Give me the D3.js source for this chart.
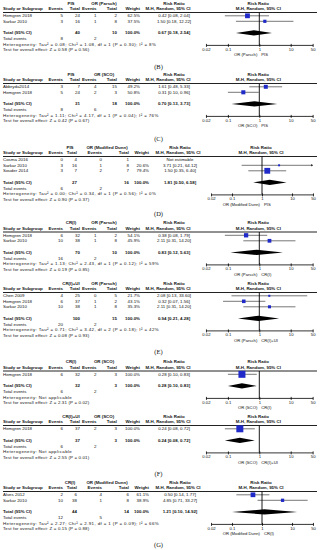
<!DOCTYPE html>
<html><head><meta charset="utf-8">
<script src="https://cdn.jsdelivr.net/npm/d3@7"></script>
<style>
body{margin:0;background:#fff}
svg{display:block}
text{font-family:"Liberation Sans",Arial,sans-serif;fill:#111}
</style>
</head><body>
<svg id="chart" width="320" height="550"></svg>
<script>
// ---------- DATA ----------
const panelLabels = ["(B)","(C)","(D)","(E)","(F)","(G)"];
const expGroups = ["PIS","PIS","PIS","CR(I)","CR(I)+UI","CR(I)","CR(I)+UI","CR(I)"];
const ctlGroups = ["OR (Parsch)","OR (SCO)","OR (Modified Dunn)","OR (Parsch)","OR (Parsch)","OR (SCO)","OR (SCO)","OR (Modified Dunn)"];
const studyNames = [
  ["Hemgren 2018","Sarkar 2010"],
  ["Abbryda2014","Hemgren 2018"],
  ["Cosma 2016","Sarkar 2010","Souder 2014"],
  ["Hemgren 2018","Sarkar 2010"],
  ["Chen 2009","Hemgren 2018","Sarkar 2010"],
  ["Hemgren 2018"],
  ["Hemgren 2018"],
  ["Alves 2012","Sarkar 2010"]
];
const expEvents = [[5,3],[3,5],[0,3,3],[6,10],[4,6,10],[6],[6],[2,10]];
const expTotals = [[24,16],[7,24],[4,16,7],[32,38],[25,37,38],[32],[37],[6,38]];
const ctlEvents = [[1,1],[4,2],[0,1,2],[1,1],[0,1,1],[2],[2],[4,1]];
const ctlTotals = [[2,8],[15,3],[1,8,7],[2,8],[5,2,8],[3],[3],[6,8]];
const weights = [[62.5,37.5],[49.2,50.8],[null,20.6,79.4],[54.1,45.9],[21.7,43.1,35.3],[100],[100],[61.1,38.9]];
const riskRatios = [[0.42,1.50],[1.61,0.31],[null,3.71,1.50],[0.38,2.11],[2.08,0.32,2.11],[0.28],[0.24],[0.50,4.85]];
const ciLower = [[0.08,0.18],[0.48,0.10],[null,0.21,0.35],[0.08,0.31],[0.13,0.07,0.31],[0.10],[0.08],[0.14,0.71]];
const ciUpper = [[2.04,12.22],[5.33,0.96],[null,64.12,6.40],[1.79,14.20],[33.60,1.56,14.20],[0.83],[0.72],[1.77,33.27]];
const totalExpN = [40,31,27,70,100,32,37,44];
const totalCtlN = [10,18,16,10,15,3,3,14];
const totalExpEvents = [8,8,6,16,20,6,6,12];
const totalCtlEvents = [2,6,2,2,2,2,2,5];
const pooledRR = [0.67,0.70,1.81,0.83,0.94,0.28,0.24,1.21];
const pooledLo = [0.18,0.13,0.50,0.12,0.21,0.10,0.08,0.10];
const pooledHi = [2.54,3.73,6.58,5.63,4.28,0.83,0.72,14.92];
const heterogeneity = [
  "Heterogeneity: Tau² = 0.08; Chi² = 1.08, df = 1 (P = 0.30); I² = 8%",
  "Heterogeneity: Tau² = 1.11; Chi² = 4.17, df = 1 (P = 0.04); I² = 76%",
  "Heterogeneity: Tau² = 0.00; Chi² = 0.34, df = 1 (P = 0.56); I² = 0%",
  "Heterogeneity: Tau² = 1.13; Chi² = 2.43, df = 1 (P = 0.12); I² = 59%",
  "Heterogeneity: Tau² = 0.71; Chi² = 3.42, df = 2 (P = 0.18); I² = 42%",
  "Heterogeneity: Not applicable",
  "Heterogeneity: Not applicable",
  "Heterogeneity: Tau² = 2.27; Chi² = 2.91, df = 1 (P = 0.09); I² = 66%"
];
const overallEffect = [
  "Test for overall effect: Z = 0.58 (P = 0.56)",
  "Test for overall effect: Z = 0.42 (P = 0.67)",
  "Test for overall effect: Z = 0.90 (P = 0.37)",
  "Test for overall effect: Z = 0.19 (P = 0.85)",
  "Test for overall effect: Z = 0.08 (P = 0.93)",
  "Test for overall effect: Z = 2.31 (P = 0.02)",
  "Test for overall effect: Z = 2.55 (P = 0.01)",
  "Test for overall effect: Z = 0.15 (P = 0.88)"
];
const tickValues = [0.02,0.1,1,10,50];
const tickLabels = ["0.02","0.1","1","10","50"];

// ---------- LAYOUT ----------
const headerY = [3, 74, 147, 222.5, 283, 361.5, 416, 482];
const labelY = [67, 139, 214, null, 352, null, 474, 545];
const layoutKind = [0,0,1,0,0,0,0,1];
const layouts = [
  {e1:63, t1:80, e2:96.5, t2:117, w:140, expC:71, ctlC:104, ciC:174, mhC:168, x1:259.3, dec:31.4},
  {e1:63, t1:77, e2:102, t2:129, w:149, expC:70, ctlC:107, ciC:180, mhC:178, x1:262, dec:30}
];
const FS = 4.4;
const ROW = 5.5;
const BLUE = "#1f2ac8";

const svg = d3.select("#chart");

function txt(g, x, y, s, opt={}) {
  const t = g.append("text").attr("x", x).attr("y", y).attr("dy","0.35em")
    .attr("font-size", opt.fs || FS)
    .attr("font-weight", opt.bold ? "bold" : null)
    .attr("text-anchor", opt.anchor || "start")
    .text(s);
  if (opt.ls) t.style("letter-spacing", opt.ls + "px");
  return t;
}
const fmt2 = d3.format(".2f");
const ciText = (r,l,u) => `${fmt2(r)} [${fmt2(l)}, ${fmt2(u)}]`;

headerY.forEach((h, p) => {
  const L = layouts[layoutKind[p]];
  const g = svg.append("g");
  const x = d3.scaleLog().domain([0.02, 50])
    .range([L.x1 - L.dec*Math.log10(50), L.x1 + L.dec*Math.log10(50)]);
  const sizeScale = d3.scalePow().exponent(0.8).domain([0,100]).range([0,7]);

  // headers
  txt(g, L.expC, h, expGroups[p], {bold:true, anchor:"middle"});
  txt(g, L.ctlC, h, ctlGroups[p], {bold:true, anchor:"middle"});
  txt(g, L.ciC, h, "Risk Ratio", {bold:true, anchor:"middle"});
  txt(g, x(1)-1, h, "Risk Ratio", {bold:true, anchor:"middle"});
  const h2 = h + 5.6;
  txt(g, 3, h2, "Study or Subgroup", {bold:true});
  txt(g, L.e1, h2, "Events", {bold:true, anchor:"end"});
  txt(g, L.t1, h2, "Total", {bold:true, anchor:"end"});
  txt(g, L.e2, h2, "Events", {bold:true, anchor:"end"});
  txt(g, L.t2, h2, "Total", {bold:true, anchor:"end"});
  txt(g, L.w, h2, "Weight", {bold:true, anchor:"end"});
  txt(g, L.mhC, h2, "M-H, Random, 95% CI", {bold:true, anchor:"middle"});
  txt(g, x(1)-1, h2, "M-H, Random, 95% CI", {bold:true, anchor:"middle"});
  const lineY = h + 9.5;
  g.append("line").attr("x1",3).attr("x2",317).attr("y1",lineY).attr("y2",lineY)
    .attr("stroke","#222").attr("stroke-width",1);

  // study rows
  const names = studyNames[p];
  const rowY = i => h + 12.8 + i*ROW;
  names.forEach((nm, i) => {
    const y = rowY(i);
    txt(g, 3, y, nm);
    txt(g, L.e1, y, expEvents[p][i], {anchor:"end"});
    txt(g, L.t1, y, expTotals[p][i], {anchor:"end"});
    txt(g, L.e2, y, ctlEvents[p][i], {anchor:"end"});
    txt(g, L.t2, y, ctlTotals[p][i], {anchor:"end"});
    const w = weights[p][i];
    if (w !== null) txt(g, L.w, y, w.toFixed(1)+"%", {anchor:"end"});
    const rr = riskRatios[p][i];
    if (rr === null) {
      txt(g, L.ciC, y, "Not estimable", {anchor:"middle"});
      return;
    }
    txt(g, L.ciC, y, ciText(rr, ciLower[p][i], ciUpper[p][i]), {anchor:"middle"});
    const hiV = Math.min(ciUpper[p][i], 50), loV = Math.max(ciLower[p][i], 0.02);
    g.append("line").attr("x1", x(loV)).attr("x2", x(hiV)).attr("y1", y).attr("y2", y)
      .attr("stroke","#555").attr("stroke-width",0.8);
    if (ciUpper[p][i] > 50) {
      const xe = x(50);
      g.append("path").attr("d", `M${xe},${y} L${xe-2},${y-1.2} L${xe-2},${y+1.2} Z`).attr("fill","#333");
    }
    const s = sizeScale(w);
    g.append("rect").attr("x", x(rr)-s/2).attr("y", y-s/2).attr("width", s).attr("height", s)
      .attr("fill", BLUE);
  });

  // totals
  const totY = rowY(names.length-1) + 11.6;
  txt(g, 3, totY, "Total (95% CI)", {bold:true});
  txt(g, L.t1, totY, totalExpN[p], {bold:true, anchor:"end"});
  txt(g, L.t2, totY, totalCtlN[p], {bold:true, anchor:"end"});
  txt(g, L.w, totY, "100.0%", {bold:true, anchor:"end"});
  txt(g, L.ciC, totY, ciText(pooledRR[p], pooledLo[p], pooledHi[p]), {bold:true, anchor:"middle"});
  g.append("path")
    .attr("d", `M${x(pooledLo[p])},${totY} L${x(pooledRR[p])},${totY-2.6} L${x(pooledHi[p])},${totY} L${x(pooledRR[p])},${totY+2.6} Z`)
    .attr("fill","#000");
  const evY = totY + 5.7;
  txt(g, 3, evY, "Total events");
  txt(g, L.e1, evY, totalExpEvents[p], {anchor:"end"});
  txt(g, L.e2, evY, totalCtlEvents[p], {anchor:"end"});
  const hetY = evY + 5.5;
  txt(g, 3, hetY, heterogeneity[p], {ls:0.4});
  txt(g, 3, hetY + 5.4, overallEffect[p], {ls:0.15});

  // axis
  const axY = totY + 12;
  g.append("line").attr("x1", x(1)).attr("x2", x(1)).attr("y1", lineY).attr("y2", axY)
    .attr("stroke","#000").attr("stroke-width",0.9);
  const ax = g.append("g").attr("transform", `translate(0,${axY})`)
    .call(d3.axisBottom(x).tickValues(tickValues).tickFormat((d,i)=>tickLabels[i]).tickSize(2).tickSizeOuter(0).tickPadding(1));
  ax.select(".domain").attr("stroke","#000").attr("stroke-width",0.8);
  ax.selectAll(".tick line").attr("stroke","#000").attr("stroke-width",0.8).attr("y1",-1);
  ax.selectAll(".tick text").attr("font-size", 4.2).attr("font-family",'"Liberation Sans",Arial,sans-serif').attr("fill","#111");
  txt(g, x(1)-2, axY + 10, ctlGroups[p], {anchor:"end", fs:4.2});
  txt(g, x(1)+2, axY + 10, expGroups[p], {fs:4.2});

  if (labelY[p] !== null) {
    const li = labelY.slice(0, p+1).filter(v => v !== null).length - 1;
    g.append("text").attr("x", 158.5).attr("y", labelY[p]).attr("dy","0.35em")
      .attr("text-anchor","middle").attr("font-size", 6.5)
      .style("font-family", '"Liberation Serif","Times New Roman",serif')
      .text(panelLabels[li]);
  }
});
</script>
</body></html>
